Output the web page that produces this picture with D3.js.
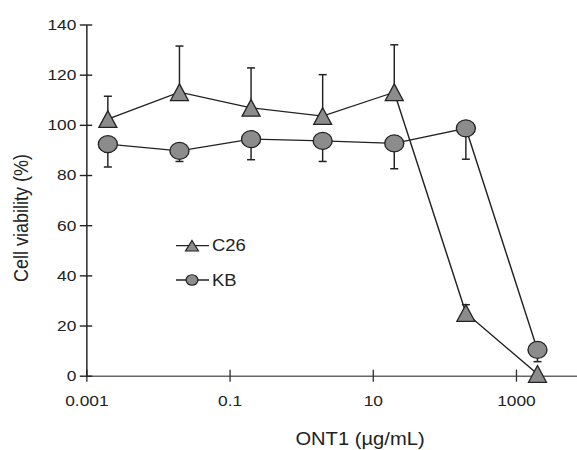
<!DOCTYPE html>
<html>
<head>
<meta charset="utf-8">
<script src="https://cdn.jsdelivr.net/npm/d3@7"></script>
<style>
  body { margin: 0; background: #fff; }
  svg { display: block; }
  text { font-family: "Liberation Sans", Arial, sans-serif; fill: #222; }
</style>
</head>
<body>
<div class="svg-container"></div>
<script>
// data
var concentrations = [0.002, 0.02, 0.2, 2, 20, 200, 2000];
var c26Values = [102.3, 113, 106.8, 103.5, 113, 25, 0.7];
var c26Errors = [9.1, 18.4, 15.9, 16.5, 18.9, 3.3, 0];
var kbValues = [92.3, 89.6, 94.3, 93.6, 92.6, 98.6, 10.3];
var kbErrors = [9.1, 4.2, 8.2, 8.2, 10.1, 12.3, 4.7];
var xTicks = [0.001, 0.1, 10, 1000];
var yTicks = [0, 20, 40, 60, 80, 100, 120, 140];
var seriesNames = ["C26", "KB"];

var width = 577;
var height = 450;
var sx = 1.12; // the original figure is a little stretched horizontally

var svg = d3.select(".svg-container").append("svg")
            .attr("width", width)
            .attr("height", height)
            .attr("viewBox", [0, 0, width / sx, height].join(" "))
            .attr("preserveAspectRatio", "none");

var scaleX = d3.scaleLog()
               .domain([0.001, 7130])
               .range([86.3 / sx, width / sx]);

var scaleY = d3.scaleLinear()
               .domain([0, 140])
               .range([375.7, 24.5]);

var c26 = concentrations.map(function(c, i) { return { x: c, y: c26Values[i], err: c26Errors[i] }; });
var kb = concentrations.map(function(c, i) { return { x: c, y: kbValues[i], err: kbErrors[i] }; });

// axes
var xAxis = svg.append("g")
               .attr("class", "xAxis")
               .attr("transform", "translate(0," + scaleY(0) + ")")
               .call(d3.axisBottom(scaleX)
                       .tickValues(xTicks)
                       .tickFormat(function(d) { return String(d); })
                       .tickSizeInner(6)
                       .tickSizeOuter(0)
                       .tickPadding(13.3));

xAxis.select(".domain").attr("stroke", "#666").attr("stroke-width", 1.6);
xAxis.selectAll(".tick line").attr("y1", -6).attr("stroke", "#333").attr("stroke-width", 1.2);
xAxis.selectAll(".tick text").attr("font-size", 15.5).attr("fill", "#222")
     .style("font-family", "'Liberation Sans', Arial, sans-serif");

var yAxis = svg.append("g")
               .attr("class", "yAxis")
               .attr("transform", "translate(" + scaleX(0.001) + ",0)")
               .call(d3.axisLeft(scaleY)
                       .tickValues(yTicks)
                       .tickSizeInner(5.8)
                       .tickSizeOuter(0)
                       .tickPadding(3.1));

yAxis.select(".domain").attr("stroke", "#222").attr("stroke-width", 1.3);
yAxis.selectAll(".tick line").attr("x1", 5.3).attr("stroke", "#222").attr("stroke-width", 1.4);
yAxis.selectAll(".tick text").attr("font-size", 15.5).attr("fill", "#222")
     .style("font-family", "'Liberation Sans', Arial, sans-serif");

// axis labels
svg.append("text")
   .attr("x", 360 / sx)
   .attr("y", 445)
   .attr("text-anchor", "middle")
   .attr("font-size", 18)
   .text("ONT1 (\u00b5g/mL)");

svg.append("text")
   .attr("transform", "translate(" + (28.5 / sx) + ",218) rotate(-90)")
   .attr("text-anchor", "middle")
   .attr("font-size", 18)
   .text("Cell viability (%)");

// lines
var valueline = d3.line()
                  .x(function(d) { return scaleX(d.x); })
                  .y(function(d) { return scaleY(d.y); });

[c26, kb].forEach(function(series) {
  svg.append("path")
     .datum(series)
     .attr("fill", "none")
     .attr("stroke", "#222")
     .attr("stroke-width", 1.3)
     .attr("d", valueline);
});

// error bars: C26 upward, KB downward
function drawErrors(series, dir) {
  var g = svg.append("g").attr("class", "errors");
  var capW = 4 / sx;
  series.filter(function(d) { return d.err > 0; }).forEach(function(d) {
    var x = scaleX(d.x);
    var yEnd = scaleY(d.y + dir * d.err);
    g.append("line")
     .attr("x1", x).attr("x2", x)
     .attr("y1", scaleY(d.y)).attr("y2", yEnd)
     .attr("stroke", "#222").attr("stroke-width", 1.3);
    g.append("line")
     .attr("x1", x - capW).attr("x2", x + capW)
     .attr("y1", yEnd).attr("y2", yEnd)
     .attr("stroke", "#222").attr("stroke-width", 1.5);
  });
}
drawErrors(c26, 1);
drawErrors(kb, -1);

// markers
function trianglePath(w, h) {
  return "M0," + (-h / 2) + "L" + (w / 2) + "," + (h / 2) + "L" + (-w / 2) + "," + (h / 2) + "Z";
}

svg.append("g").attr("class", "c26-markers")
   .selectAll("path")
   .data(c26)
   .enter()
   .append("path")
     .attr("transform", function(d) { return "translate(" + scaleX(d.x) + "," + scaleY(d.y) + ")"; })
     .attr("d", trianglePath(18 / sx, 16.7))
     .attr("fill", "#8c8c8c")
     .attr("stroke", "#222")
     .attr("stroke-width", 1.2);

svg.append("g").attr("class", "kb-markers")
   .selectAll("circle")
   .data(kb)
   .enter()
   .append("circle")
     .attr("cx", function(d) { return scaleX(d.x); })
     .attr("cy", function(d) { return scaleY(d.y); })
     .attr("r", 8.5)
     .attr("fill", "#8c8c8c")
     .attr("stroke", "#222")
     .attr("stroke-width", 1.2);

// legend
var legend = svg.append("g")
                .attr("class", "legend")
                .attr("transform", "translate(" + (176 / sx) + ",245.7)");

var items = legend.selectAll("g")
                  .data(seriesNames)
                  .enter()
                  .append("g")
                  .attr("transform", function(d, i) { return "translate(0," + (i * 34.3) + ")"; });

items.append("line")
     .attr("x1", 0).attr("x2", 33 / sx)
     .attr("y1", 0).attr("y2", 0)
     .attr("stroke", "#222").attr("stroke-width", 1.3);

items.filter(function(d) { return d == "C26"; })
     .append("path")
     .attr("transform", "translate(" + (16 / sx) + ",0)")
     .attr("d", trianglePath(13 / sx, 10.5))
     .attr("fill", "#8c8c8c").attr("stroke", "#222").attr("stroke-width", 1.1);

items.filter(function(d) { return d == "KB"; })
     .append("circle")
     .attr("cx", 16 / sx).attr("cy", 0)
     .attr("r", 5.3)
     .attr("fill", "#8c8c8c").attr("stroke", "#222").attr("stroke-width", 1.1);

items.append("text")
     .attr("x", 36 / sx)
     .attr("y", 0)
     .attr("dy", "0.35em")
     .attr("font-size", 16.5)
     .text(function(d) { return d; });
</script>
</body>
</html>
